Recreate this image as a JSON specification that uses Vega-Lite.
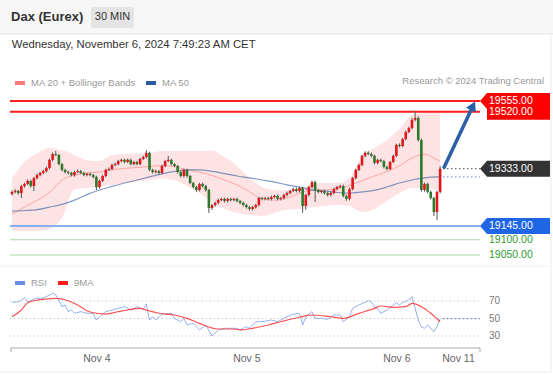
{
"$schema": "https://vega.github.io/schema/vega-lite/v6.json",
"width": 553, "height": 375,
"autosize": {"type": "none"},
"padding": 0,
"background": "white",
"config": {"font": "Liberation Sans", "view": {"stroke": null}, "axisY": {"disable": true}, "scale": {"continuousPadding": 0}},
"datasets": {
"candles": [
{"i":0,"o":19250,"h":19262,"l":19245,"c":19257},{"i":1,"o":19257,"h":19266,"l":19252,"c":19260},{"i":2,"o":19260,"h":19264,"l":19248,"c":19253},{"i":3,"o":19253,"h":19280,"l":19237,"c":19276},{"i":4,"o":19276,"h":19287,"l":19271,"c":19283},{"i":5,"o":19283,"h":19298,"l":19279,"c":19293},{"i":6,"o":19293,"h":19297,"l":19271,"c":19276},{"i":7,"o":19276,"h":19306,"l":19260,"c":19302},{"i":8,"o":19302,"h":19317,"l":19298,"c":19312},{"i":9,"o":19312,"h":19323,"l":19308,"c":19319},
{"i":10,"o":19319,"h":19330,"l":19315,"c":19325},{"i":11,"o":19325,"h":19340,"l":19320,"c":19335},{"i":12,"o":19335,"h":19366,"l":19331,"c":19362},{"i":13,"o":19362,"h":19386,"l":19357,"c":19381},{"i":14,"o":19381,"h":19391,"l":19374,"c":19378},{"i":15,"o":19378,"h":19382,"l":19344,"c":19348},{"i":16,"o":19348,"h":19352,"l":19324,"c":19329},{"i":17,"o":19329,"h":19333,"l":19317,"c":19322},{"i":18,"o":19322,"h":19327,"l":19314,"c":19319},{"i":19,"o":19319,"h":19323,"l":19308,"c":19312},
{"i":20,"o":19312,"h":19326,"l":19307,"c":19322},{"i":21,"o":19322,"h":19330,"l":19318,"c":19325},{"i":22,"o":19325,"h":19329,"l":19315,"c":19319},{"i":23,"o":19319,"h":19323,"l":19308,"c":19312},{"i":24,"o":19312,"h":19320,"l":19308,"c":19316},{"i":25,"o":19316,"h":19320,"l":19308,"c":19312},{"i":26,"o":19312,"h":19316,"l":19301,"c":19306},{"i":27,"o":19306,"h":19310,"l":19263,"c":19273},{"i":28,"o":19273,"h":19297,"l":19268,"c":19293},{"i":29,"o":19293,"h":19313,"l":19289,"c":19309},
{"i":30,"o":19309,"h":19333,"l":19305,"c":19329},{"i":31,"o":19329,"h":19337,"l":19325,"c":19332},{"i":32,"o":19332,"h":19350,"l":19328,"c":19345},{"i":33,"o":19345,"h":19353,"l":19341,"c":19348},{"i":34,"o":19348,"h":19362,"l":19344,"c":19358},{"i":35,"o":19358,"h":19366,"l":19354,"c":19362},{"i":36,"o":19362,"h":19366,"l":19351,"c":19355},{"i":37,"o":19355,"h":19366,"l":19351,"c":19362},{"i":38,"o":19362,"h":19366,"l":19344,"c":19348},{"i":39,"o":19348,"h":19359,"l":19344,"c":19355},
{"i":40,"o":19355,"h":19359,"l":19344,"c":19348},{"i":41,"o":19348,"h":19369,"l":19344,"c":19365},{"i":42,"o":19365,"h":19376,"l":19361,"c":19371},{"i":43,"o":19371,"h":19394,"l":19367,"c":19385},{"i":44,"o":19385,"h":19389,"l":19325,"c":19329},{"i":45,"o":19329,"h":19333,"l":19317,"c":19322},{"i":46,"o":19322,"h":19330,"l":19317,"c":19325},{"i":47,"o":19325,"h":19329,"l":19314,"c":19319},{"i":48,"o":19319,"h":19346,"l":19315,"c":19342},{"i":49,"o":19342,"h":19362,"l":19338,"c":19358},
{"i":50,"o":19358,"h":19375,"l":19354,"c":19362},{"i":51,"o":19362,"h":19366,"l":19344,"c":19348},{"i":52,"o":19348,"h":19352,"l":19338,"c":19342},{"i":53,"o":19342,"h":19346,"l":19317,"c":19322},{"i":54,"o":19322,"h":19326,"l":19304,"c":19309},{"i":55,"o":19309,"h":19333,"l":19304,"c":19329},{"i":56,"o":19329,"h":19333,"l":19304,"c":19309},{"i":57,"o":19309,"h":19313,"l":19282,"c":19286},{"i":58,"o":19286,"h":19290,"l":19268,"c":19273},{"i":59,"o":19273,"h":19277,"l":19257,"c":19263},
{"i":60,"o":19263,"h":19287,"l":19259,"c":19283},{"i":61,"o":19283,"h":19287,"l":19271,"c":19276},{"i":62,"o":19276,"h":19280,"l":19258,"c":19263},{"i":63,"o":19263,"h":19267,"l":19188,"c":19204},{"i":64,"o":19204,"h":19218,"l":19198,"c":19214},{"i":65,"o":19214,"h":19225,"l":19208,"c":19221},{"i":66,"o":19221,"h":19235,"l":19216,"c":19230},{"i":67,"o":19230,"h":19238,"l":19226,"c":19234},{"i":68,"o":19234,"h":19238,"l":19222,"c":19227},{"i":69,"o":19227,"h":19238,"l":19222,"c":19234},
{"i":70,"o":19234,"h":19238,"l":19226,"c":19230},{"i":71,"o":19230,"h":19238,"l":19226,"c":19234},{"i":72,"o":19234,"h":19238,"l":19222,"c":19227},{"i":73,"o":19227,"h":19231,"l":19216,"c":19221},{"i":74,"o":19221,"h":19225,"l":19209,"c":19214},{"i":75,"o":19214,"h":19218,"l":19202,"c":19207},{"i":76,"o":19207,"h":19211,"l":19196,"c":19201},{"i":77,"o":19201,"h":19211,"l":19196,"c":19207},{"i":78,"o":19207,"h":19218,"l":19202,"c":19214},{"i":79,"o":19214,"h":19241,"l":19209,"c":19237},
{"i":80,"o":19237,"h":19241,"l":19229,"c":19234},{"i":81,"o":19234,"h":19241,"l":19229,"c":19237},{"i":82,"o":19237,"h":19241,"l":19229,"c":19234},{"i":83,"o":19234,"h":19245,"l":19229,"c":19240},{"i":84,"o":19240,"h":19248,"l":19236,"c":19244},{"i":85,"o":19244,"h":19248,"l":19229,"c":19234},{"i":86,"o":19234,"h":19241,"l":19229,"c":19237},{"i":87,"o":19237,"h":19251,"l":19232,"c":19247},{"i":88,"o":19247,"h":19258,"l":19242,"c":19253},{"i":89,"o":19253,"h":19264,"l":19249,"c":19260},
{"i":90,"o":19260,"h":19271,"l":19256,"c":19266},{"i":91,"o":19266,"h":19271,"l":19255,"c":19260},{"i":92,"o":19260,"h":19274,"l":19255,"c":19270},{"i":93,"o":19270,"h":19274,"l":19188,"c":19211},{"i":94,"o":19211,"h":19251,"l":19198,"c":19247},{"i":95,"o":19247,"h":19277,"l":19242,"c":19273},{"i":96,"o":19273,"h":19294,"l":19268,"c":19289},{"i":97,"o":19289,"h":19294,"l":19224,"c":19263},{"i":98,"o":19263,"h":19267,"l":19252,"c":19257},{"i":99,"o":19257,"h":19264,"l":19252,"c":19260},
{"i":100,"o":19260,"h":19264,"l":19248,"c":19253},{"i":101,"o":19253,"h":19258,"l":19242,"c":19247},{"i":102,"o":19247,"h":19258,"l":19242,"c":19253},{"i":103,"o":19253,"h":19271,"l":19249,"c":19266},{"i":104,"o":19266,"h":19277,"l":19262,"c":19273},{"i":105,"o":19273,"h":19281,"l":19268,"c":19276},{"i":106,"o":19276,"h":19281,"l":19239,"c":19244},{"i":107,"o":19244,"h":19248,"l":19228,"c":19234},{"i":108,"o":19234,"h":19271,"l":19229,"c":19266},{"i":109,"o":19266,"h":19306,"l":19262,"c":19302},
{"i":110,"o":19302,"h":19333,"l":19298,"c":19329},{"i":111,"o":19329,"h":19350,"l":19325,"c":19345},{"i":112,"o":19345,"h":19379,"l":19341,"c":19375},{"i":113,"o":19375,"h":19390,"l":19370,"c":19385},{"i":114,"o":19385,"h":19390,"l":19377,"c":19381},{"i":115,"o":19381,"h":19386,"l":19370,"c":19375},{"i":116,"o":19375,"h":19379,"l":19347,"c":19352},{"i":117,"o":19352,"h":19366,"l":19347,"c":19362},{"i":118,"o":19362,"h":19366,"l":19354,"c":19358},{"i":119,"o":19358,"h":19362,"l":19334,"c":19339},
{"i":120,"o":19339,"h":19343,"l":19328,"c":19332},{"i":121,"o":19332,"h":19359,"l":19328,"c":19355},{"i":122,"o":19355,"h":19379,"l":19351,"c":19375},{"i":123,"o":19375,"h":19415,"l":19371,"c":19411},{"i":124,"o":19411,"h":19416,"l":19403,"c":19407},{"i":125,"o":19407,"h":19434,"l":19403,"c":19430},{"i":126,"o":19430,"h":19458,"l":19426,"c":19453},{"i":127,"o":19453,"h":19471,"l":19449,"c":19466},{"i":128,"o":19466,"h":19500,"l":19462,"c":19493},{"i":129,"o":19493,"h":19522,"l":19488,"c":19499},
{"i":130,"o":19499,"h":19505,"l":19422,"c":19427},{"i":131,"o":19427,"h":19432,"l":19258,"c":19263},{"i":132,"o":19263,"h":19287,"l":19258,"c":19283},{"i":133,"o":19283,"h":19287,"l":19252,"c":19257},{"i":134,"o":19257,"h":19261,"l":19232,"c":19237},{"i":135,"o":19237,"h":19241,"l":19178,"c":19191},{"i":136,"o":19191,"h":19261,"l":19165,"c":19257},{"i":137,"o":19257,"h":19342,"l":19252,"c":19333}
],
"ind": [
{"i":0,"ma20":19184,"bu":19302,"bl":19130,"ma50":19194},{"i":4,"ma20":19207,"bu":19355,"bl":19128,"ma50":19196},{"i":8,"ma20":19229,"bu":19384,"bl":19128,"ma50":19199},{"i":12,"ma20":19255,"bu":19401,"bl":19135,"ma50":19207},{"i":16,"ma20":19296,"bu":19394,"bl":19171,"ma50":19216},{"i":20,"ma20":19312,"bu":19378,"bl":19266,"ma50":19230},{"i":24,"ma20":19319,"bu":19361,"bl":19270,"ma50":19248},{"i":28,"ma20":19322,"bu":19358,"bl":19273,"ma50":19263},{"i":32,"ma20":19329,"bu":19378,"bl":19280,"ma50":19275},{"i":36,"ma20":19334,"bu":19381,"bl":19286,"ma50":19286},{"i":40,"ma20":19337,"bu":19384,"bl":19291,"ma50":19296},{"i":44,"ma20":19340,"bu":19384,"bl":19296,"ma50":19306},{"i":48,"ma20":19343,"bu":19391,"bl":19301,"ma50":19316},{"i":52,"ma20":19340,"bu":19391,"bl":19296,"ma50":19324},{"i":56,"ma20":19329,"bu":19391,"bl":19276,"ma50":19329},{"i":60,"ma20":19322,"bu":19391,"bl":19253,"ma50":19329},{"i":64,"ma20":19311,"bu":19393,"bl":19221,"ma50":19324},{"i":68,"ma20":19296,"bu":19371,"bl":19201,"ma50":19317},{"i":72,"ma20":19280,"bu":19342,"bl":19188,"ma50":19309},{"i":76,"ma20":19257,"bu":19303,"bl":19181,"ma50":19303},{"i":80,"ma20":19235,"bu":19273,"bl":19178,"ma50":19296},{"i":84,"ma20":19230,"bu":19263,"bl":19188,"ma50":19289},{"i":88,"ma20":19237,"bu":19262,"bl":19198,"ma50":19280},{"i":92,"ma20":19253,"bu":19266,"bl":19201,"ma50":19273},{"i":96,"ma20":19263,"bu":19283,"bl":19207,"ma50":19263},{"i":100,"ma20":19263,"bu":19286,"bl":19211,"ma50":19260},{"i":104,"ma20":19268,"bu":19286,"bl":19214,"ma50":19255},{"i":108,"ma20":19278,"bu":19303,"bl":19211,"ma50":19253},{"i":112,"ma20":19294,"bu":19375,"bl":19191,"ma50":19257},{"i":116,"ma20":19309,"bu":19401,"bl":19201,"ma50":19262},{"i":120,"ma20":19324,"bu":19427,"bl":19227,"ma50":19273},{"i":124,"ma20":19342,"bu":19463,"bl":19253,"ma50":19286},{"i":128,"ma20":19368,"bu":19509,"bl":19270,"ma50":19296},{"i":132,"ma20":19380,"bu":19516,"bl":19270,"ma50":19303},{"i":136,"ma20":19363,"bu":19516,"bl":19263,"ma50":19306},{"i":137,"ma20":19358,"bu":19516,"bl":19263,"ma50":19306}
],
"rsi": [
{"i":0,"v":68.5},{"i":2,"v":69},{"i":3,"v":71},{"i":4,"v":73.8},{"i":5,"v":69},{"i":6,"v":70},{"i":8,"v":73.8},{"i":9,"v":72},{"i":11,"v":75},{"i":13,"v":78.8},{"i":14,"v":76.9},{"i":15,"v":71},{"i":16,"v":63.5},{"i":17,"v":65.4},{"i":18,"v":57.8},{"i":19,"v":59.7},{"i":20,"v":56},{"i":22,"v":57.8},{"i":24,"v":56},{"i":26,"v":56},{"i":27,"v":48.3},{"i":28,"v":52},{"i":30,"v":57.8},{"i":34,"v":61.6},{"i":36,"v":63.5},{"i":38,"v":59.7},{"i":40,"v":63.5},{"i":42,"v":60.5},{"i":43,"v":66.6},{"i":44,"v":48.3},{"i":45,"v":52},{"i":46,"v":48.3},{"i":47,"v":52},{"i":48,"v":55},{"i":51,"v":55.9},{"i":52,"v":50.2},{"i":54,"v":46.3},{"i":55,"v":50.2},{"i":56,"v":42.6},{"i":58,"v":44.6},{"i":59,"v":40.7},{"i":60,"v":36.9},{"i":62,"v":42.6},{"i":64,"v":30},{"i":66,"v":36.9},{"i":68,"v":38.8},{"i":70,"v":38.8},{"i":72,"v":38.8},{"i":73,"v":36.9},{"i":75,"v":40.7},{"i":76,"v":38.8},{"i":78,"v":46.3},{"i":80,"v":46.3},{"i":83,"v":48.3},{"i":85,"v":46.3},{"i":86,"v":48.3},{"i":88,"v":52},{"i":90,"v":55},{"i":92,"v":55.9},{"i":93,"v":42.6},{"i":94,"v":52},{"i":96,"v":57.8},{"i":97,"v":50.2},{"i":99,"v":50.2},{"i":101,"v":49},{"i":103,"v":54},{"i":105,"v":54},{"i":106,"v":46.3},{"i":108,"v":52},{"i":109,"v":61.6},{"i":111,"v":65.4},{"i":114,"v":70.3},{"i":115,"v":69},{"i":116,"v":63.5},{"i":117,"v":61.6},{"i":118,"v":55.9},{"i":120,"v":59.7},{"i":123,"v":68},{"i":124,"v":65.4},{"i":125,"v":68.5},{"i":127,"v":71.1},{"i":128,"v":75},{"i":130,"v":48.3},{"i":131,"v":40.6},{"i":132,"v":38.8},{"i":133,"v":42.6},{"i":135,"v":34.9},{"i":136,"v":40.7},{"i":137,"v":49.8}
],
"rsima": [
{"i":0,"v":52},{"i":3,"v":59.7},{"i":5,"v":68},{"i":8,"v":71},{"i":11,"v":72.3},{"i":14,"v":73},{"i":18,"v":70.3},{"i":21,"v":65.4},{"i":24,"v":58.9},{"i":27,"v":56},{"i":30,"v":55.1},{"i":34,"v":57.8},{"i":37,"v":59.7},{"i":41,"v":61.6},{"i":43,"v":59.7},{"i":47,"v":56},{"i":52,"v":54},{"i":56,"v":50.2},{"i":60,"v":44.5},{"i":66,"v":38},{"i":71,"v":38},{"i":73,"v":36.9},{"i":77,"v":38.8},{"i":82,"v":42.6},{"i":86,"v":46.3},{"i":92,"v":51.4},{"i":96,"v":54},{"i":102,"v":52},{"i":106,"v":50.2},{"i":111,"v":55.9},{"i":116,"v":61.6},{"i":118,"v":64.3},{"i":122,"v":62.8},{"i":126,"v":63.5},{"i":128,"v":67.3},{"i":131,"v":63.5},{"i":134,"v":56},{"i":137,"v":46.3}
],
"tags": [
{"p":19555,"t":"19555.00","k":"r"},{"p":19520,"t":"19520.00","k":"r2"},{"p":19333,"t":"19333.00","k":"d"},{"p":19145,"t":"19145.00","k":"b"},{"p":19100,"t":"19100.00","k":"g"},{"p":19050,"t":"19050.00","k":"g"}
],
"last": [{"i":137,"c":19333,"m":19306,"r":49.8}],
"arrow": [{"i":138.1,"p":19334},{"i":147.2,"p":19532}],
"head": [{"i":147.5,"p":19539}],
"one": [{}],
"rsilev": [{"v":70},{"v":50},{"v":30}]
},
"layer": [
{"layer": [
{"data":{"name":"one"},"mark":{"type":"rect","fill":"#f7f7f7"},"encoding":{"x":{"datum":-3.84,"type":"quantitative","scale":{"domain":[-3.84,173.12],"nice":false,"zero":false}},"x2":{"datum":173.12},"y":{"datum":19886.1,"type":"quantitative","scale":{"domain":[18656.6,19886.1],"nice":false,"zero":false}},"y2":{"datum":19774.6}}},
{"data":{"name":"one"},"mark":{"type":"rule","stroke":"#e4e4e4","strokeWidth":1},"encoding":{"x":{"datum":-3.84,"type":"quantitative","scale":{"domain":[-3.84,173.12],"nice":false,"zero":false}},"x2":{"datum":173.12},"y":{"datum":19774.6,"type":"quantitative","scale":{"domain":[18656.6,19886.1],"nice":false,"zero":false}}}},
{"data":{"name":"one"},"mark":{"type":"text","text":"Dax (Eurex)","align":"left","baseline":"middle","fontSize":13,"fontWeight":"bold","color":"#333333"},"encoding":{"x":{"datum":-0.3,"type":"quantitative","scale":{"domain":[-3.84,173.12],"nice":false,"zero":false}},"y":{"datum":19830.4,"type":"quantitative","scale":{"domain":[18656.6,19886.1],"nice":false,"zero":false}}}},
{"data":{"name":"one"},"mark":{"type":"rect","fill":"#e4e4e4","cornerRadius":2},"encoding":{"x":{"datum":25.28,"type":"quantitative","scale":{"domain":[-3.84,173.12],"nice":false,"zero":false}},"x2":{"datum":39.04},"y":{"datum":19863.1,"type":"quantitative","scale":{"domain":[18656.6,19886.1],"nice":false,"zero":false}},"y2":{"datum":19794.3}}},
{"data":{"name":"one"},"mark":{"type":"text","text":"30 MIN","align":"center","baseline":"middle","fontSize":11,"color":"#333333"},"encoding":{"x":{"datum":32.16,"type":"quantitative","scale":{"domain":[-3.84,173.12],"nice":false,"zero":false}},"y":{"datum":19830.4,"type":"quantitative","scale":{"domain":[18656.6,19886.1],"nice":false,"zero":false}}}},
{"data":{"name":"one"},"mark":{"type":"text","text":"Wednesday, November 6, 2024 7:49:23 AM CET","align":"left","baseline":"middle","fontSize":11.3,"color":"#333333"},"encoding":{"x":{"datum":-0.1,"type":"quantitative","scale":{"domain":[-3.84,173.12],"nice":false,"zero":false}},"y":{"datum":19738.6,"type":"quantitative","scale":{"domain":[18656.6,19886.1],"nice":false,"zero":false}}}},
{"data":{"name":"one"},"mark":{"type":"text","text":"Research © 2024 Trading Central","align":"right","baseline":"middle","fontSize":9.5,"color":"#999999"},"encoding":{"x":{"datum":170.24,"type":"quantitative","scale":{"domain":[-3.84,173.12],"nice":false,"zero":false}},"y":{"datum":19620.5,"type":"quantitative","scale":{"domain":[18656.6,19886.1],"nice":false,"zero":false}}}},
{"data":{"name":"ind"},"mark":{"type":"area","fill":"#fde3e3","interpolate":"monotone"},"encoding":{"x":{"field":"i","type":"quantitative","scale":{"domain":[-3.84,173.12],"nice":false,"zero":false}},"y":{"field":"bu","type":"quantitative","scale":{"domain":[18656.6,19886.1],"nice":false,"zero":false}},"y2":{"field":"bl"}}},
{"data":{"name":"ind"},"mark":{"type":"line","strokeWidth":1,"opacity":0.6,"interpolate":"monotone"},"encoding":{"x":{"field":"i","type":"quantitative","scale":{"domain":[-3.84,173.12],"nice":false,"zero":false}},"y":{"field":"ma20","type":"quantitative","scale":{"domain":[18656.6,19886.1],"nice":false,"zero":false}},"stroke":{"datum":"MA 20 + Bollinger Bands","type":"nominal","scale":{"domain":["MA 20 + Bollinger Bands","MA 50"],"range":["#ff7b7b","#2b5a9e"]},"legend":{"orient":"none","legendX":13,"legendY":76,"direction":"horizontal","title":null,"symbolType":"stroke","symbolStrokeWidth":4,"symbolSize":100,"symbolOpacity":1,"labelFontSize":9.5,"labelColor":"#999999","columnPadding":2,"labelOffset":4,"padding":0,"encode":{"symbols":{"update":{"strokeWidth":{"value":4},"opacity":{"value":1}}}}}}}},
{"data":{"name":"ind"},"mark":{"type":"line","strokeWidth":1.2,"opacity":0.6,"interpolate":"monotone"},"encoding":{"x":{"field":"i","type":"quantitative","scale":{"domain":[-3.84,173.12],"nice":false,"zero":false}},"y":{"field":"ma50","type":"quantitative","scale":{"domain":[18656.6,19886.1],"nice":false,"zero":false}},"stroke":{"datum":"MA 50","type":"nominal","scale":{"domain":["MA 20 + Bollinger Bands","MA 50"],"range":["#ff7b7b","#2b5a9e"]},"legend":{"orient":"none","legendX":13,"legendY":76,"direction":"horizontal","title":null,"symbolType":"stroke","symbolStrokeWidth":4,"symbolSize":100,"symbolOpacity":1,"labelFontSize":9.5,"labelColor":"#999999","columnPadding":2,"labelOffset":4,"padding":0,"encode":{"symbols":{"update":{"strokeWidth":{"value":4},"opacity":{"value":1}}}}}}}},
{"data":{"name":"tags"},"transform":[{"filter":"datum.k == 'r' || datum.k == 'r2'"}],"mark":{"type":"rule","stroke":"#ff1f1f","strokeWidth":2},"encoding":{"x":{"datum":-0.64,"type":"quantitative","scale":{"domain":[-3.84,173.12],"nice":false,"zero":false}},"x2":{"datum":149.76},"y":{"field":"p","type":"quantitative","scale":{"domain":[18656.6,19886.1],"nice":false,"zero":false}}}},
{"data":{"name":"tags"},"transform":[{"filter":"datum.k == 'b'"}],"mark":{"type":"rule","stroke":"#8aaef3","strokeWidth":2},"encoding":{"x":{"datum":-0.64,"type":"quantitative","scale":{"domain":[-3.84,173.12],"nice":false,"zero":false}},"x2":{"datum":149.76},"y":{"field":"p","type":"quantitative","scale":{"domain":[18656.6,19886.1],"nice":false,"zero":false}}}},
{"data":{"name":"tags"},"transform":[{"filter":"datum.k == 'g'"}],"mark":{"type":"rule","stroke":"#a8d8a8","strokeWidth":1},"encoding":{"x":{"datum":-0.64,"type":"quantitative","scale":{"domain":[-3.84,173.12],"nice":false,"zero":false}},"x2":{"datum":149.76},"y":{"field":"p","type":"quantitative","scale":{"domain":[18656.6,19886.1],"nice":false,"zero":false}}}},
{"data":{"name":"candles"},"mark":{"type":"rule","stroke":"#555555","strokeWidth":1},"encoding":{"x":{"field":"i","type":"quantitative","scale":{"domain":[-3.84,173.12],"nice":false,"zero":false},"axis":{"orient":"bottom","offset":-27,"domain":false,"ticks":false,"grid":false,"title":null,"values":[27,75,123,142.72],"labelExpr":"datum.value < 50 ? 'Nov 4' : datum.value < 100 ? 'Nov 5' : datum.value < 130 ? 'Nov 6' : 'Nov 11'","labelFontSize":10.5,"labelColor":"#666666","labelPadding":5,"labelFlush":false}},"y":{"field":"l","type":"quantitative","scale":{"domain":[18656.6,19886.1],"nice":false,"zero":false}},"y2":{"field":"h"}}},
{"data":{"name":"candles"},"mark":{"type":"bar","width":2.6},"encoding":{"x":{"field":"i","type":"quantitative","scale":{"domain":[-3.84,173.12],"nice":false,"zero":false}},"y":{"field":"o","type":"quantitative","scale":{"domain":[18656.6,19886.1],"nice":false,"zero":false}},"y2":{"field":"c"},"color":{"condition":{"test":"datum.c >= datum.o","value":"#e3161b"},"value":"#2b7a2b"}}},
{"data":{"name":"last"},"mark":{"type":"rule","stroke":"#444444","strokeWidth":1,"strokeDash":[1.5,2.5]},"encoding":{"x":{"datum":137.92,"type":"quantitative","scale":{"domain":[-3.84,173.12],"nice":false,"zero":false}},"x2":{"datum":149.76},"y":{"field":"c","type":"quantitative","scale":{"domain":[18656.6,19886.1],"nice":false,"zero":false}}}},
{"data":{"name":"last"},"mark":{"type":"rule","stroke":"#5d86d6","strokeWidth":1,"strokeDash":[1.5,2.5]},"encoding":{"x":{"datum":137.92,"type":"quantitative","scale":{"domain":[-3.84,173.12],"nice":false,"zero":false}},"x2":{"datum":149.76},"y":{"field":"m","type":"quantitative","scale":{"domain":[18656.6,19886.1],"nice":false,"zero":false}}}},
{"data":{"name":"arrow"},"mark":{"type":"line","stroke":"#2b5ea7","strokeWidth":3.5,"strokeCap":"butt"},"encoding":{"x":{"field":"i","type":"quantitative","scale":{"domain":[-3.84,173.12],"nice":false,"zero":false}},"y":{"field":"p","type":"quantitative","scale":{"domain":[18656.6,19886.1],"nice":false,"zero":false}}}},
{"data":{"name":"head"},"mark":{"type":"point","shape":"triangle-up","filled":true,"fill":"#2b5ea7","opacity":1,"size":120,"angle":25},"encoding":{"x":{"field":"i","type":"quantitative","scale":{"domain":[-3.84,173.12],"nice":false,"zero":false}},"y":{"field":"p","type":"quantitative","scale":{"domain":[18656.6,19886.1],"nice":false,"zero":false}}}},
{"data":{"name":"tags"},"transform":[{"filter":"datum.k == 'r2'"}],"mark":{"type":"point","shape":"M -0.8 -0.2286 L 1 -0.2286 L 1 0.2286 L -0.8 0.2286 Z","filled":true,"fill":"#ff0000","opacity":1,"strokeWidth":0,"size":4900},"encoding":{"x":{"datum":160.96,"type":"quantitative","scale":{"domain":[-3.84,173.12],"nice":false,"zero":false}},"y":{"field":"p","type":"quantitative","scale":{"domain":[18656.6,19886.1],"nice":false,"zero":false}}}},
{"data":{"name":"tags"},"transform":[{"filter":"datum.k == 'r' || datum.k == 'd' || datum.k == 'b'"}],"mark":{"type":"point","shape":"M -1 0 L -0.8 -0.2286 L 1 -0.2286 L 1 0.2286 L -0.8 0.2286 Z","filled":true,"opacity":1,"strokeWidth":0,"size":4900},"encoding":{"x":{"datum":160.96,"type":"quantitative","scale":{"domain":[-3.84,173.12],"nice":false,"zero":false}},"y":{"field":"p","type":"quantitative","scale":{"domain":[18656.6,19886.1],"nice":false,"zero":false}},"fill":{"condition":[{"test":"datum.k == 'd'","value":"#333333"},{"test":"datum.k == 'b'","value":"#1f66e5"}],"value":"#ff0000"}}},
{"data":{"name":"tags"},"mark":{"type":"text","align":"left","baseline":"middle","fontSize":10.5},"encoding":{"x":{"datum":152.64,"type":"quantitative","scale":{"domain":[-3.84,173.12],"nice":false,"zero":false}},"y":{"field":"p","type":"quantitative","scale":{"domain":[18656.6,19886.1],"nice":false,"zero":false}},"text":{"field":"t"},"color":{"condition":{"test":"datum.k == 'g'","value":"#2f9a2f"},"value":"#ffffff"}}}
]},
{"layer": [
{"data":{"name":"one"},"mark":{"type":"rule","stroke":"#ececec","strokeWidth":1},"encoding":{"x":{"datum":-3.84,"type":"quantitative","scale":{"domain":[-3.84,173.12],"nice":false,"zero":false}},"x2":{"datum":171.5},"y":{"datum":110,"type":"quantitative","scale":{"domain":[-14.57,414.0],"nice":false,"zero":false}}}},
{"data":{"name":"one"},"mark":{"type":"rule","stroke":"#ececec","strokeWidth":1},"encoding":{"x":{"datum":-3.84,"type":"quantitative","scale":{"domain":[-3.84,173.12],"nice":false,"zero":false}},"x2":{"datum":172.48},"y":{"datum":-11.14,"type":"quantitative","scale":{"domain":[-14.57,414.0],"nice":false,"zero":false}}}},
{"data":{"name":"one"},"mark":{"type":"rule","stroke":"#ececec","strokeWidth":1},"encoding":{"x":{"datum":172.48,"type":"quantitative","scale":{"domain":[-3.84,173.12],"nice":false,"zero":false}},"y":{"datum":375,"type":"quantitative","scale":{"domain":[-14.57,414.0],"nice":false,"zero":false}},"y2":{"datum":-11.14}}},
{"data":{"name":"rsilev"},"mark":{"type":"rule","stroke":"#bbbbbb","strokeWidth":1,"strokeDash":[1,3]},"encoding":{"x":{"datum":-0.64,"type":"quantitative","scale":{"domain":[-3.84,173.12],"nice":false,"zero":false}},"x2":{"datum":149.76},"y":{"field":"v","type":"quantitative","scale":{"domain":[-14.57,414.0],"nice":false,"zero":false}}}},
{"data":{"name":"rsilev"},"mark":{"type":"text","align":"left","baseline":"middle","fontSize":10,"color":"#777777"},"encoding":{"x":{"datum":152.64,"type":"quantitative","scale":{"domain":[-3.84,173.12],"nice":false,"zero":false}},"y":{"field":"v","type":"quantitative","scale":{"domain":[-14.57,414.0],"nice":false,"zero":false}},"text":{"field":"v"}}},
{"data":{"name":"last"},"mark":{"type":"rule","stroke":"#6b8fe6","strokeWidth":1.2,"strokeDash":[1.5,2.5]},"encoding":{"x":{"datum":137.92,"type":"quantitative","scale":{"domain":[-3.84,173.12],"nice":false,"zero":false}},"x2":{"datum":149.76},"y":{"field":"r","type":"quantitative","scale":{"domain":[-14.57,414.0],"nice":false,"zero":false}}}},
{"data":{"name":"rsi"},"mark":{"type":"line","strokeWidth":1,"opacity":0.7},"encoding":{"x":{"field":"i","type":"quantitative","scale":{"domain":[-3.84,173.12],"nice":false,"zero":false}},"y":{"field":"v","type":"quantitative","scale":{"domain":[-14.57,414.0],"nice":false,"zero":false}},"color":{"datum":"RSI","type":"nominal","scale":{"domain":["RSI","9MA"],"range":["#6b8fe6","#ff1a1a"]},"legend":{"orient":"none","legendX":13,"legendY":276,"direction":"horizontal","title":null,"symbolType":"stroke","symbolStrokeWidth":4,"symbolSize":100,"symbolOpacity":1,"labelFontSize":9.5,"labelColor":"#999999","columnPadding":3,"labelOffset":4,"padding":0,"encode":{"symbols":{"update":{"strokeWidth":{"value":4},"opacity":{"value":1}}}}}}}},
{"data":{"name":"rsima"},"mark":{"type":"line","strokeWidth":1.2,"opacity":0.75,"interpolate":"monotone"},"encoding":{"x":{"field":"i","type":"quantitative","scale":{"domain":[-3.84,173.12],"nice":false,"zero":false}},"y":{"field":"v","type":"quantitative","scale":{"domain":[-14.57,414.0],"nice":false,"zero":false}},"color":{"datum":"9MA","type":"nominal","scale":{"domain":["RSI","9MA"],"range":["#6b8fe6","#ff1a1a"]},"legend":{"orient":"none","legendX":13,"legendY":276,"direction":"horizontal","title":null,"symbolType":"stroke","symbolStrokeWidth":4,"symbolSize":100,"symbolOpacity":1,"labelFontSize":9.5,"labelColor":"#999999","columnPadding":3,"labelOffset":4,"padding":0,"encode":{"symbols":{"update":{"strokeWidth":{"value":4},"opacity":{"value":1}}}}}}}},
{"data":{"name":"one"},"mark":{"type":"rule","stroke":"#aaaaaa","strokeWidth":1},"encoding":{"x":{"datum":-0.32,"type":"quantitative","scale":{"domain":[-3.84,173.12],"nice":false,"zero":false}},"x2":{"datum":149.76},"y":{"datum":16.29,"type":"quantitative","scale":{"domain":[-14.57,414.0],"nice":false,"zero":false}}}},
{"data":{"name":"one"},"mark":{"type":"rule","stroke":"#aaaaaa","strokeWidth":1},"encoding":{"x":{"datum":-0.32,"type":"quantitative","scale":{"domain":[-3.84,173.12],"nice":false,"zero":false}},"y":{"datum":16.29,"type":"quantitative","scale":{"domain":[-14.57,414.0],"nice":false,"zero":false}},"y2":{"datum":11.7}}},
{"data":{"name":"one"},"mark":{"type":"rule","stroke":"#aaaaaa","strokeWidth":1},"encoding":{"x":{"datum":149.76,"type":"quantitative","scale":{"domain":[-3.84,173.12],"nice":false,"zero":false}},"y":{"datum":16.29,"type":"quantitative","scale":{"domain":[-14.57,414.0],"nice":false,"zero":false}},"y2":{"datum":11.7}}}
]}
],
"resolve": {"scale": {"y": "independent"}}
}
